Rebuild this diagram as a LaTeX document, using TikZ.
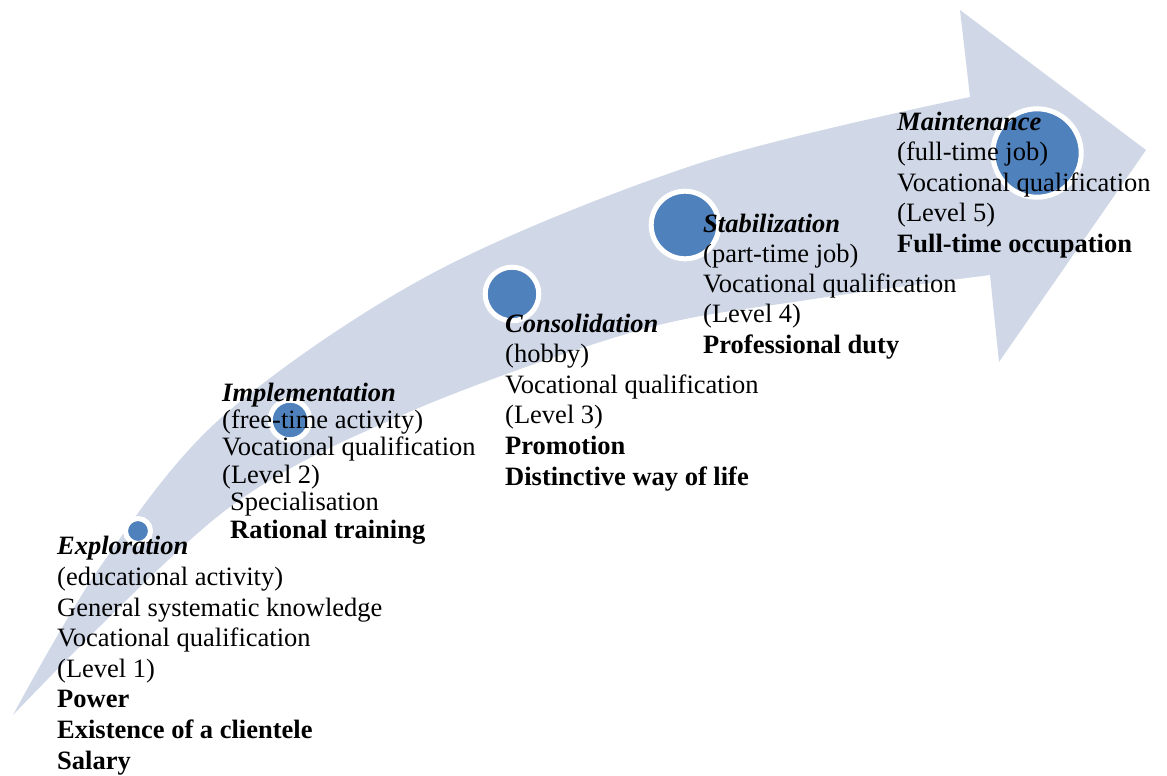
\documentclass[tikz,border=0pt]{standalone}
\usepackage{fontspec}
\setmainfont{Liberation Serif}
\definecolor{bandcol}{RGB}{208,216,232}
\definecolor{dotcol}{RGB}{79,129,189}
\begin{document}
\begin{tikzpicture}[x=1pt,y=-1pt,
  stage/.style={anchor=base west, inner sep=0pt, align=left, font=\fontsize{26.5}{30.6}\selectfont},
  dotnode/.style={circle, fill=dotcol, draw=white, line width=5pt, inner sep=0pt, outer sep=0pt}]
\useasboundingbox (0,0) rectangle (1167,776);
% curved band arrow
\fill[bandcol] plot[smooth, tension=0.55] coordinates {(13,715) (100,567) (222,417) (433,273) (700,163) (970,97)}
  -- (960,10) -- (1146,150) -- (999,362) -- (990,275)
  -- plot[smooth, tension=0.55] coordinates {(990,275) (807,300) (640,330) (407,413) (222,513) (13,715)} -- cycle;
% stage dots
\node[dotnode, minimum size=25pt] (c1) at (138,531) {};
\node[dotnode, minimum size=39.6pt] (c2) at (290,420) {};
\node[dotnode, minimum size=53.6pt] (c3) at (512,294) {};
\node[dotnode, minimum size=67.6pt] (c4) at (685,225) {};
\node[dotnode, minimum size=88.4pt] (c5) at (1037,153) {};
% stage texts (anchored at the baseline of the last line)
\node[stage] (explo) at (57,769) {\textbf{\textit{Exploration}}\\(educational activity)\\General systematic knowledge\\Vocational qualification\\(Level 1)\\\textbf{Power}\\\textbf{Existence of a clientele}\\\textbf{Salary}};
\node[stage, font=\fontsize{26.5}{27.4}\selectfont] (impl) at (222,538) {\textbf{\textit{Implementation}}\\(free-time activity)\\Vocational qualification\\(Level 2)\\\hspace*{8pt}Specialisation\\\hspace*{8pt}\textbf{Rational training}};
\node[stage] (cons) at (505,485) {\textbf{\textit{Consolidation}}\\(hobby)\\Vocational qualification\\(Level 3)\\\textbf{Promotion}\\\textbf{Distinctive way of life}};
\node[stage, font=\fontsize{26.5}{30.25}\selectfont] (stab) at (703,353) {\textbf{\textit{Stabilization}}\\(part-time job)\\Vocational qualification\\(Level 4)\\\textbf{Professional duty}};
\node[stage, font=\fontsize{26.5}{30.5}\selectfont] (maint) at (897,252) {\textbf{\textit{Maintenance}}\\(full-time job)\\Vocational qualification\\(Level 5)\\\textbf{Full-time occupation}};
\end{tikzpicture}
\end{document}
